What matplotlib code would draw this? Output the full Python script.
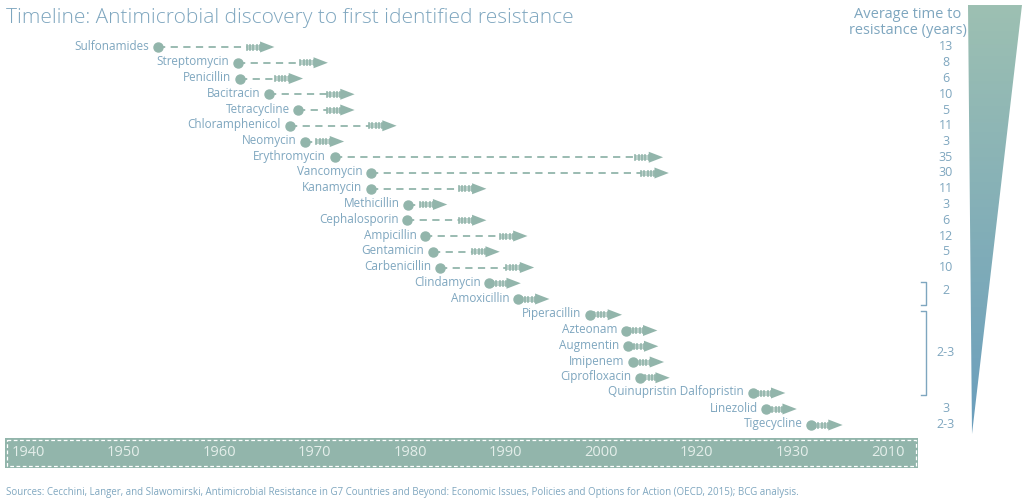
import matplotlib.pyplot as plt
import numpy as np
from matplotlib.colors import LinearSegmentedColormap
from matplotlib.patches import Polygon, Rectangle

drugs = [
    "Sulfonamides", "Streptomycin", "Penicillin", "Bacitracin", "Tetracycline",
    "Chloramphenicol", "Neomycin", "Erythromycin", "Vancomycin", "Kanamycin",
    "Methicillin", "Cephalosporin", "Ampicillin", "Gentamicin", "Carbenicillin",
    "Clindamycin", "Amoxicillin", "Piperacillin", "Azteonam", "Augmentin",
    "Imipenem", "Ciprofloxacin", "Quinupristin Dalfopristin", "Linezolid", "Tigecycline",
]
discovery = [1953.6, 1962.0, 1962.2, 1965.2, 1968.3, 1967.4, 1969.0, 1972.1, 1975.9,
             1975.9, 1979.8, 1979.7, 1981.6, 1982.4, 1983.1, 1988.3, 1991.3, 1998.8,
             2002.6, 2002.8, 2003.4, 2004.1, 2015.9, 2017.3, 2022.0]
resistance = [1965.8, 1971.4, 1968.8, 1974.2, 1974.2, 1978.6, 1973.1, 2006.5, 2007.1,
              1988.0, 1983.9, 1988.0, 1992.3, 1989.4, 1993.0, 1991.6, 1994.6, 2002.2,
              2005.9, 2006.0, 2006.6, 2007.2, 2019.3, 2020.5, 2025.3]
avg_labels = ["13", "8", "6", "10", "5", "11", "3", "35", "30", "11", "3", "6", "12",
              "5", "10", "", "", "", "", "", "", "", "", "3", "2-3"]
tick_years = [1940, 1950, 1960, 1970, 1980, 1990, 2000, 2010, 2020, 2030]
tick_labels = ["1940", "1950", "1960", "1970", "1980", "1990", "2000", "1920", "1930", "2010"]

GREEN = "#92b5ab"
TEXT = "#7ea6bf"
plt.rcParams["font.family"] = "Open Sans"

px_per_year = 9.55
x0 = 1940 - 28 / px_per_year
fig = plt.figure(figsize=(10.24, 5.0), dpi=100)
ax = fig.add_axes([0, 0, 1, 1])
ax.set_xlim(x0, x0 + 1024 / px_per_year)
ax.set_ylim(500, 0)
ax.axis("off")


def px(x):
    return x0 + x / px_per_year


ax.text(px(6), 18, "Timeline: Antimicrobial discovery to first identified resistance",
        fontsize=15, color=TEXT, va="center", ha="left", fontweight="light")

row_y = 47 + np.arange(len(drugs)) * 15.75
row_y[-2:] = [409, 425]
row_y[-3] = 393
for name, start, end, y, lab in zip(drugs, discovery, resistance, row_y, avg_labels):
    ax.plot(start, y, "o", color=GREEN, ms=6.5)
    head = 1.5
    stripe = 1.4
    ax.plot([start, end - head - stripe], [y, y], color=GREEN, lw=1.3, ls=(0, (4, 3)))
    for s in np.linspace(end - head - stripe, end - head, 5):
        ax.plot([s, s], [y - 2.5, y + 2.5], color=GREEN, lw=1.2)
    ax.add_patch(Polygon([[end - head, y - 5.5], [end, y], [end - head, y + 5.5]],
                         color=GREEN, lw=0))
    ax.add_patch(Rectangle((end - head - stripe, y - 2.5), stripe + 0.1, 5, color=GREEN, lw=0, alpha=0.6))
    ax.text(start - 0.9, y - 1, name, fontsize=8.5, color=TEXT, ha="right", va="center")
    if lab:
        ax.text(px(946), y, lab, fontsize=9, color=TEXT, ha="center", va="center")

ax.text(px(946), 291, "2", fontsize=9, color=TEXT, ha="center", va="center")
ax.text(px(946), 352, "2-3", fontsize=9, color=TEXT, ha="center", va="center")
for top, bot in [(282, 305), (311, 395)]:
    ax.plot([px(921), px(926), px(926), px(921)], [top, top, bot, bot], color=TEXT, lw=1)

ax.text(px(908), 14, "Average time to", fontsize=10.5, color=TEXT, ha="center", va="center")
ax.text(px(908), 31, "resistance (years)", fontsize=10.5, color=TEXT, ha="center", va="center")

# gradient triangle
cmap = LinearSegmentedColormap.from_list("tri", ["#9dc0b2", "#6a9ebd"])
grad = ax.imshow(np.linspace(0, 1, 256).reshape(-1, 1), cmap=cmap, aspect="auto",
                 extent=[px(968), px(1022), 434, 5], zorder=1)
tri = Polygon([[px(968), 5], [px(1022), 5], [px(972), 434]], transform=ax.transData,
              facecolor="none", edgecolor="none")
ax.add_patch(tri)
grad.set_clip_path(tri)

# time band
ax.add_patch(Rectangle((px(5), 438), (918 - 5) / px_per_year, 30, color=GREEN, lw=0))
ax.add_patch(Rectangle((px(7), 440), (916 - 7) / px_per_year, 26, facecolor="none",
                       edgecolor="white", lw=0.9, ls=(0, (3, 2))))
for yr, lab in zip(tick_years, tick_labels):
    ax.text(yr, 453, lab, fontsize=10.5, color="#e4eeea", ha="center", va="center")

ax.text(px(6), 492, "Sources: Cecchini, Langer, and Slawomirski, Antimicrobial Resistance in G7 "
        "Countries and Beyond: Economic Issues, Policies and Options for Action (OECD, 2015); BCG analysis.",
        fontsize=7, color=TEXT, ha="left", va="center")

fig.savefig("out.png", dpi=100)
